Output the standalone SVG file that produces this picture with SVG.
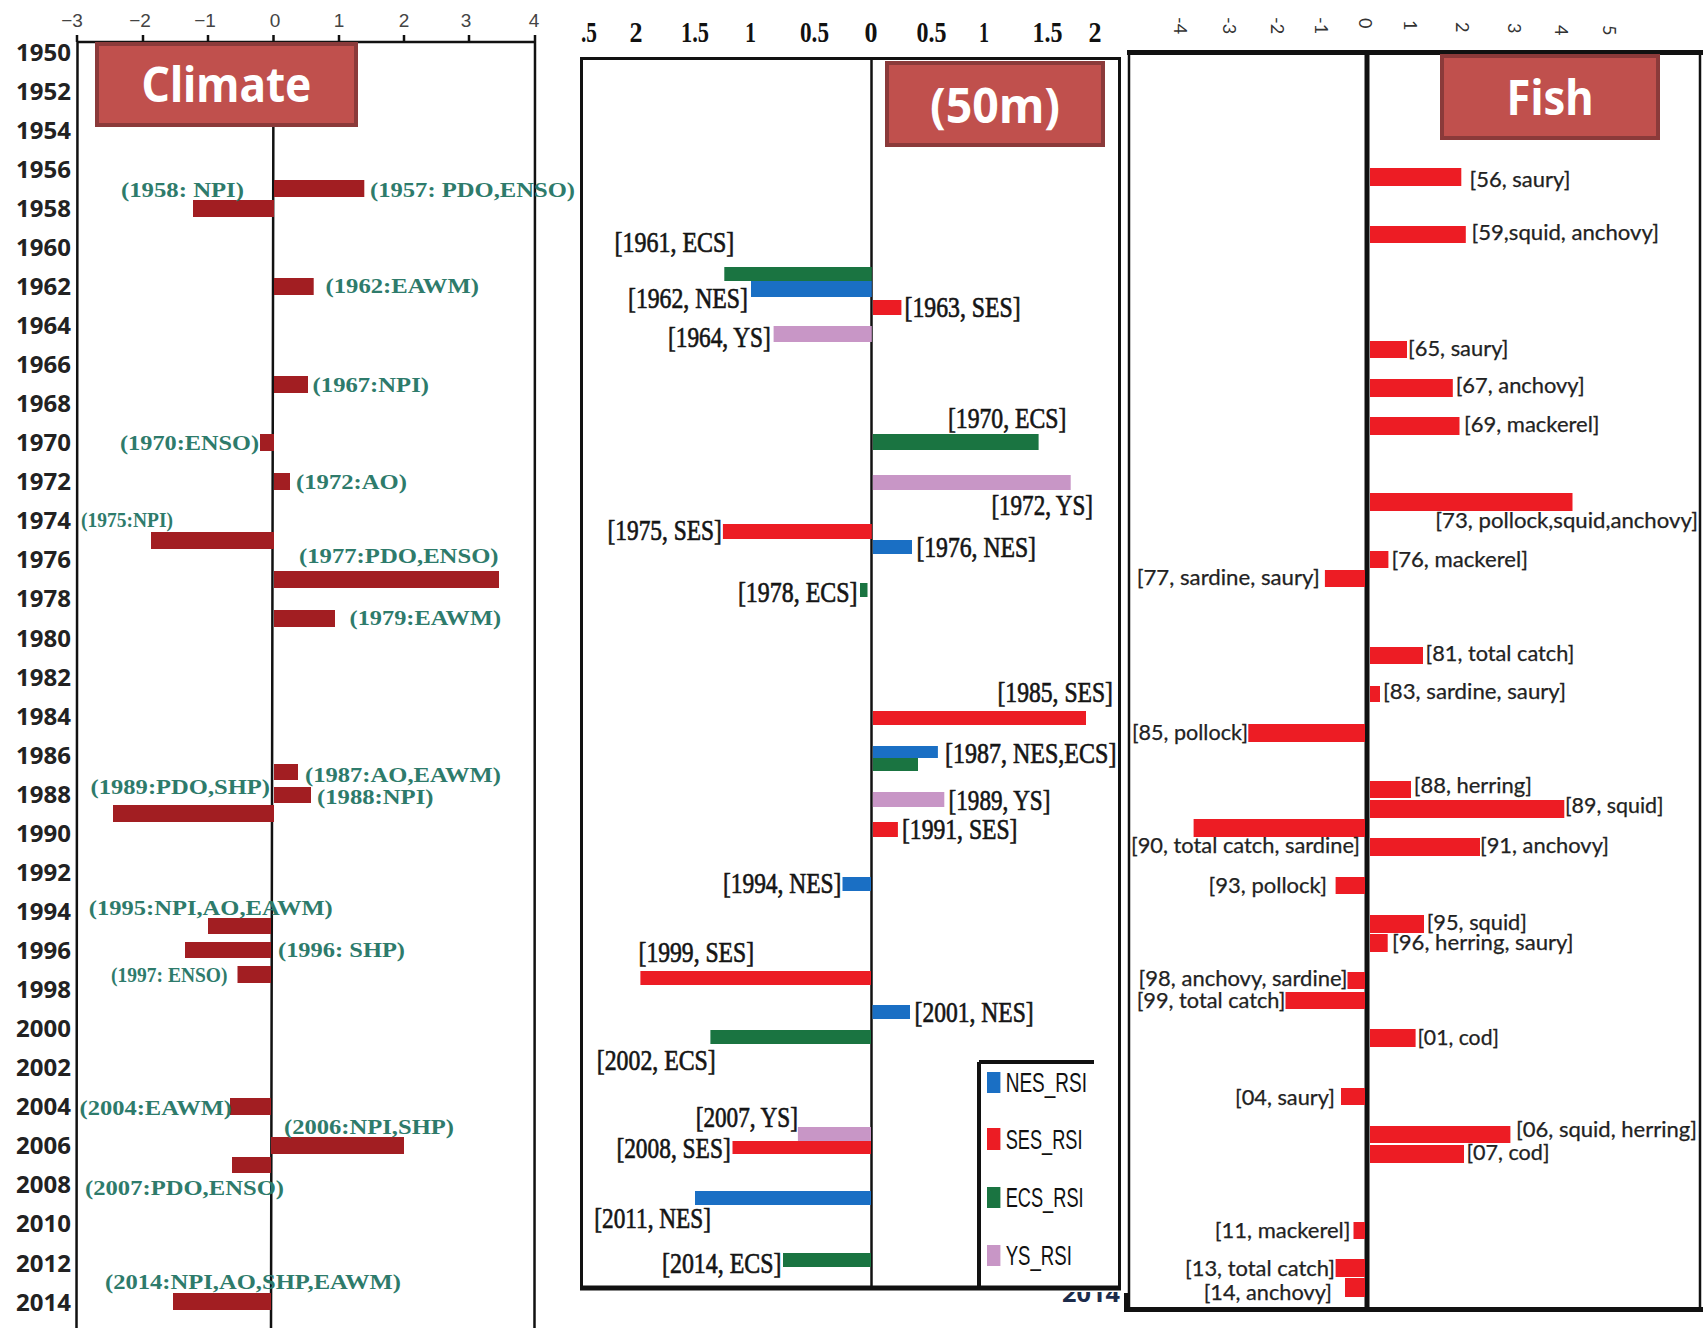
<svg xmlns="http://www.w3.org/2000/svg" width="1703" height="1328" viewBox="0 0 1703 1328">
<style>
.yr{font-family:"Noto Sans","Liberation Sans",sans-serif;font-weight:bold;font-size:24px;fill:#222;text-anchor:end}
.tk{font-family:"Liberation Sans",sans-serif;font-size:19px;fill:#444;text-anchor:middle}
.cl{font-family:"Liberation Serif",serif;font-weight:bold;font-size:22px;fill:#2E7B6B}
.cb{fill:#A21E22}
.ttl{fill:#C0504D;stroke:#8B3A3A;stroke-width:4}
.ttt{font-family:"Noto Sans","Liberation Sans",sans-serif;font-weight:bold;font-size:48px;fill:#fff;text-anchor:middle}
.ax{stroke:#111;stroke-width:2.5;fill:none}
.mt{font-family:"Liberation Serif",serif;font-weight:bold;font-size:30px;fill:#111}
.ml{font-family:"Liberation Serif",serif;font-size:30px;fill:#151515;stroke:#151515;stroke-width:0.7}
.ecs{fill:#1A7441}.nes{fill:#1A6FC4}.ses{fill:#EC1C24}.ys{fill:#C896C6}
.lg{font-family:"Liberation Sans",sans-serif;font-size:27px;fill:#111}
.ft{font-family:Lato,"Liberation Sans",sans-serif;font-size:18px;fill:#333;dominant-baseline:central}
.fl{font-family:Lato,"Liberation Sans",sans-serif;font-size:21px;fill:#222;stroke:#222;stroke-width:0.25}
.fb{fill:#ED1C24}
</style>
<defs>
<clipPath id="cut2014"><rect x="1040" y="1292" width="90" height="36"/></clipPath>
</defs>
<rect width="1703" height="1328" fill="#fff"/>

<g id="climate-panel">
<g id="climate-axis">
<path class="ax" d="M77.5,42 L535,42 M77.5,42 L76.5,1328 M535,42 L534.5,1328 M273.5,42 L271,1328"/>
<path class="ax" stroke-width="2" d="M77,42V35 M143,42V35 M208,42V35 M273.5,42V35 M339,42V35 M404,42V35 M469,42V35 M535,42V35"/>
<text class="tk" x="72" y="27">−3</text>
<text class="tk" x="140" y="27">−2</text>
<text class="tk" x="205" y="27">−1</text>
<text class="tk" x="275" y="27">0</text>
<text class="tk" x="339" y="27">1</text>
<text class="tk" x="404" y="27">2</text>
<text class="tk" x="466" y="27">3</text>
<text class="tk" x="534" y="27">4</text>
</g>
<g id="climate-years">
<text class="yr" x="71" y="60.6">1950</text>
<text class="yr" x="71" y="99.7">1952</text>
<text class="yr" x="71" y="138.7">1954</text>
<text class="yr" x="71" y="177.8">1956</text>
<text class="yr" x="71" y="216.8">1958</text>
<text class="yr" x="71" y="255.9">1960</text>
<text class="yr" x="71" y="295">1962</text>
<text class="yr" x="71" y="334">1964</text>
<text class="yr" x="71" y="373.1">1966</text>
<text class="yr" x="71" y="412.1">1968</text>
<text class="yr" x="71" y="451.2">1970</text>
<text class="yr" x="71" y="490.3">1972</text>
<text class="yr" x="71" y="529.3">1974</text>
<text class="yr" x="71" y="568.4">1976</text>
<text class="yr" x="71" y="607.4">1978</text>
<text class="yr" x="71" y="646.5">1980</text>
<text class="yr" x="71" y="685.6">1982</text>
<text class="yr" x="71" y="724.6">1984</text>
<text class="yr" x="71" y="763.7">1986</text>
<text class="yr" x="71" y="802.7">1988</text>
<text class="yr" x="71" y="841.8">1990</text>
<text class="yr" x="71" y="880.9">1992</text>
<text class="yr" x="71" y="919.9">1994</text>
<text class="yr" x="71" y="959">1996</text>
<text class="yr" x="71" y="998">1998</text>
<text class="yr" x="71" y="1037.1">2000</text>
<text class="yr" x="71" y="1076.2">2002</text>
<text class="yr" x="71" y="1115.2">2004</text>
<text class="yr" x="71" y="1154.3">2006</text>
<text class="yr" x="71" y="1193.3">2008</text>
<text class="yr" x="71" y="1232.4">2010</text>
<text class="yr" x="71" y="1271.5">2012</text>
<text class="yr" x="71" y="1310.5">2014</text>
</g>
<g id="climate-title">
<rect class="ttl" x="97" y="44" width="259" height="81"/>
<text class="ttt" x="226.5" y="102" textLength="170" lengthAdjust="spacingAndGlyphs">Climate</text>
</g>
<g id="climate-bars">
<rect class="cb" x="274" y="180" width="90.3" height="17"/>
<rect class="cb" x="193" y="200" width="81" height="17"/>
<rect class="cb" x="274" y="278" width="39.7" height="17"/>
<rect class="cb" x="274" y="376" width="34" height="17"/>
<rect class="cb" x="260" y="434" width="14" height="17"/>
<rect class="cb" x="274" y="473" width="16" height="17"/>
<rect class="cb" x="151" y="532" width="123" height="17"/>
<rect class="cb" x="274" y="571" width="225" height="17"/>
<rect class="cb" x="274" y="610" width="61" height="17"/>
<rect class="cb" x="274" y="764" width="24" height="16"/>
<rect class="cb" x="274" y="787" width="37" height="16"/>
<rect class="cb" x="113" y="805" width="161" height="17"/>
<rect class="cb" x="208" y="918" width="63" height="16"/>
<rect class="cb" x="185" y="942" width="86" height="16"/>
<rect class="cb" x="237.5" y="966" width="33.5" height="17"/>
<rect class="cb" x="230" y="1098" width="41" height="17"/>
<rect class="cb" x="271" y="1137" width="133" height="17"/>
<rect class="cb" x="232" y="1157" width="39" height="16"/>
<rect class="cb" x="173" y="1293" width="98" height="17"/>
</g>
<g id="climate-labels">
<text class="cl" x="121" y="197" textLength="123" lengthAdjust="spacingAndGlyphs">(1958: NPI)</text>
<text class="cl" x="370" y="197" textLength="205" lengthAdjust="spacingAndGlyphs">(1957: PDO,ENSO)</text>
<text class="cl" x="325.5" y="293" textLength="153.5" lengthAdjust="spacingAndGlyphs">(1962:EAWM)</text>
<text class="cl" x="312.6" y="392" textLength="116.4" lengthAdjust="spacingAndGlyphs">(1967:NPI)</text>
<text class="cl" x="120" y="450" textLength="139" lengthAdjust="spacingAndGlyphs">(1970:ENSO)</text>
<text class="cl" x="296" y="489" textLength="111" lengthAdjust="spacingAndGlyphs">(1972:AO)</text>
<text class="cl" x="81" y="527" font-size="16" textLength="92" lengthAdjust="spacingAndGlyphs">(1975:NPI)</text>
<text class="cl" x="299" y="563" textLength="199.6" lengthAdjust="spacingAndGlyphs">(1977:PDO,ENSO)</text>
<text class="cl" x="349.6" y="625" textLength="151.4" lengthAdjust="spacingAndGlyphs">(1979:EAWM)</text>
<text class="cl" x="305" y="782" textLength="196" lengthAdjust="spacingAndGlyphs">(1987:AO,EAWM)</text>
<text class="cl" x="317" y="804" textLength="116.5" lengthAdjust="spacingAndGlyphs">(1988:NPI)</text>
<text class="cl" x="90.6" y="794" textLength="179.4" lengthAdjust="spacingAndGlyphs">(1989:PDO,SHP)</text>
<text class="cl" x="88.8" y="915" textLength="244" lengthAdjust="spacingAndGlyphs">(1995:NPI,AO,EAWM)</text>
<text class="cl" x="278" y="957" textLength="127" lengthAdjust="spacingAndGlyphs">(1996: SHP)</text>
<text class="cl" x="111" y="982" font-size="17" textLength="116.5" lengthAdjust="spacingAndGlyphs">(1997: ENSO)</text>
<text class="cl" x="79.5" y="1115" textLength="152.5" lengthAdjust="spacingAndGlyphs">(2004:EAWM)</text>
<text class="cl" x="284" y="1134" textLength="170" lengthAdjust="spacingAndGlyphs">(2006:NPI,SHP)</text>
<text class="cl" x="85" y="1195" textLength="199" lengthAdjust="spacingAndGlyphs">(2007:PDO,ENSO)</text>
<text class="cl" x="105" y="1289" textLength="296" lengthAdjust="spacingAndGlyphs">(2014:NPI,AO,SHP,EAWM)</text>
</g>
</g>

<g id="sea-panel">
<g id="sea-axis">
<text class="mt" x="581" y="42" textLength="16" lengthAdjust="spacingAndGlyphs">.5</text>
<text class="mt" x="629.5" y="42" textLength="13" lengthAdjust="spacingAndGlyphs">2</text>
<text class="mt" x="681" y="42" textLength="28" lengthAdjust="spacingAndGlyphs">1.5</text>
<text class="mt" x="745" y="42" textLength="11" lengthAdjust="spacingAndGlyphs">1</text>
<text class="mt" x="800" y="42" textLength="29" lengthAdjust="spacingAndGlyphs">0.5</text>
<text class="mt" x="864.5" y="42" textLength="13" lengthAdjust="spacingAndGlyphs">0</text>
<text class="mt" x="916.5" y="42" textLength="30" lengthAdjust="spacingAndGlyphs">0.5</text>
<text class="mt" x="979" y="42" textLength="10" lengthAdjust="spacingAndGlyphs">1</text>
<text class="mt" x="1032.5" y="42" textLength="30" lengthAdjust="spacingAndGlyphs">1.5</text>
<text class="mt" x="1088.5" y="42" textLength="13" lengthAdjust="spacingAndGlyphs">2</text>
<rect x="581.5" y="58.5" width="538" height="1229" fill="none" stroke="#111" stroke-width="3"/>
<path d="M580,1288 H1121" stroke="#111" stroke-width="5"/>
<path d="M871.5,58 V1288" stroke="#111" stroke-width="2.5"/>
</g>
<g id="sea-title">
<rect class="ttl" x="887" y="63" width="216" height="82"/>
<text class="ttt" x="995" y="123" textLength="130" lengthAdjust="spacingAndGlyphs">(50m)</text>
</g>
<g id="sea-bars">
<rect class="ecs" x="724.3" y="267" width="147.5" height="14"/>
<rect class="nes" x="751" y="281" width="120.8" height="16"/>
<rect class="ses" x="872.9" y="300" width="28.5" height="15"/>
<rect class="ys" x="773.6" y="326" width="98.2" height="16"/>
<rect class="ecs" x="872.9" y="434" width="165.7" height="16"/>
<rect class="ys" x="872.9" y="475" width="197.8" height="15"/>
<rect class="ses" x="722.9" y="524" width="148.9" height="15"/>
<rect class="nes" x="872.9" y="540" width="39.1" height="14"/>
<rect class="ecs" x="860" y="583" width="7.5" height="14"/>
<rect class="ses" x="872.9" y="711" width="213.1" height="14"/>
<rect class="ecs" x="872.9" y="757" width="45.1" height="14"/>
<rect class="nes" x="872.9" y="746" width="65" height="12"/>
<rect class="ys" x="872.9" y="792" width="71.4" height="15"/>
<rect class="ses" x="872.9" y="822" width="25" height="15"/>
<rect class="nes" x="842.5" y="877" width="28.5" height="14"/>
<rect class="ses" x="640.4" y="971" width="230.6" height="14"/>
<rect class="nes" x="872.5" y="1005" width="37.5" height="14"/>
<rect class="ecs" x="710.4" y="1030" width="160.6" height="14"/>
<rect class="ses" x="732.5" y="1141" width="138.5" height="13"/>
<rect class="ys" x="797.9" y="1127" width="73.1" height="14"/>
<rect class="nes" x="695" y="1191" width="176" height="14"/>
<rect class="ecs" x="783" y="1253" width="88" height="14"/>
</g>
<g id="sea-labels">
<text class="ml" x="614.6" y="252" textLength="119.7" lengthAdjust="spacingAndGlyphs">[1961, ECS]</text>
<text class="ml" x="628" y="308" textLength="119.9" lengthAdjust="spacingAndGlyphs">[1962, NES]</text>
<text class="ml" x="904.6" y="317" textLength="116.1" lengthAdjust="spacingAndGlyphs">[1963, SES]</text>
<text class="ml" x="668" y="347" textLength="102.7" lengthAdjust="spacingAndGlyphs">[1964, YS]</text>
<text class="ml" x="947.9" y="428" textLength="118.5" lengthAdjust="spacingAndGlyphs">[1970, ECS]</text>
<text class="ml" x="991.4" y="515" textLength="101.6" lengthAdjust="spacingAndGlyphs">[1972, YS]</text>
<text class="ml" x="607.5" y="540" textLength="114.3" lengthAdjust="spacingAndGlyphs">[1975, SES]</text>
<text class="ml" x="916.4" y="557" textLength="119.6" lengthAdjust="spacingAndGlyphs">[1976, NES]</text>
<text class="ml" x="737.9" y="602" textLength="119.6" lengthAdjust="spacingAndGlyphs">[1978, ECS]</text>
<text class="ml" x="997.5" y="702" textLength="115.5" lengthAdjust="spacingAndGlyphs">[1985, SES]</text>
<text class="ml" x="945" y="763" textLength="171.4" lengthAdjust="spacingAndGlyphs">[1987, NES,ECS]</text>
<text class="ml" x="948.6" y="810" textLength="101.8" lengthAdjust="spacingAndGlyphs">[1989, YS]</text>
<text class="ml" x="902" y="839" textLength="115.5" lengthAdjust="spacingAndGlyphs">[1991, SES]</text>
<text class="ml" x="722.9" y="893" textLength="118.5" lengthAdjust="spacingAndGlyphs">[1994, NES]</text>
<text class="ml" x="638.6" y="962" textLength="115.4" lengthAdjust="spacingAndGlyphs">[1999, SES]</text>
<text class="ml" x="914.6" y="1022" textLength="119" lengthAdjust="spacingAndGlyphs">[2001, NES]</text>
<text class="ml" x="596.8" y="1070" textLength="118.9" lengthAdjust="spacingAndGlyphs">[2002, ECS]</text>
<text class="ml" x="695.7" y="1127" textLength="102.2" lengthAdjust="spacingAndGlyphs">[2007, YS]</text>
<text class="ml" x="616.4" y="1158" textLength="114.3" lengthAdjust="spacingAndGlyphs">[2008, SES]</text>
<text class="ml" x="594.3" y="1228" textLength="116.7" lengthAdjust="spacingAndGlyphs">[2011, NES]</text>
<text class="ml" x="662" y="1273" textLength="119.4" lengthAdjust="spacingAndGlyphs">[2014, ECS]</text>
</g>
<g id="sea-legend">
<path d="M979,1062 H1094 M979,1062 V1290" stroke="#111" stroke-width="4" fill="none"/>
<rect class="nes" x="987" y="1072" width="13.4" height="21"/>
<rect class="ses" x="987" y="1128" width="13.4" height="22"/>
<rect class="ecs" x="987" y="1187" width="13.4" height="21"/>
<rect class="ys" x="987" y="1245" width="13.4" height="21"/>
<text class="lg" x="1005.7" y="1092" textLength="81.3" lengthAdjust="spacingAndGlyphs">NES_RSI</text>
<text class="lg" x="1005.7" y="1149" textLength="76.8" lengthAdjust="spacingAndGlyphs">SES_RSI</text>
<text class="lg" x="1005.7" y="1207" textLength="77.9" lengthAdjust="spacingAndGlyphs">ECS_RSI</text>
<text class="lg" x="1005.7" y="1265" textLength="66.1" lengthAdjust="spacingAndGlyphs">YS_RSI</text>
</g>
<text clip-path="url(#cut2014)" x="1062" y="1302" font-family="Noto Sans, Liberation Sans, sans-serif" font-weight="bold" font-size="24" fill="#1c2b4a" textLength="58" lengthAdjust="spacingAndGlyphs">2014</text>
</g>

<g id="fish-panel">
<g id="fish-axis">
<text class="ft" transform="translate(1181,17) rotate(90)">-4</text>
<text class="ft" transform="translate(1230,17) rotate(90)">-3</text>
<text class="ft" transform="translate(1278,17) rotate(90)">-2</text>
<text class="ft" transform="translate(1322,17) rotate(90)">-1</text>
<text class="ft" transform="translate(1366,18) rotate(90)">0</text>
<text class="ft" transform="translate(1411,20) rotate(90)">1</text>
<text class="ft" transform="translate(1463,22) rotate(90)">2</text>
<text class="ft" transform="translate(1515,23) rotate(90)">3</text>
<text class="ft" transform="translate(1562,25) rotate(90)">4</text>
<text class="ft" transform="translate(1610,25) rotate(90)">5</text>
<path d="M1124,1293 H1130 V1312 H1124 Z M1124,1307 H1703 V1312 H1124 Z" fill="#111"/>
<path d="M1129,52.5 V1309 M1700,52.5 V1309" stroke="#111" stroke-width="2.5" fill="none"/>
<path d="M1127,52.5 H1703" stroke="#111" stroke-width="5"/>
<path d="M1367,52 V1310" stroke="#111" stroke-width="5"/>
</g>
<g id="fish-title">
<rect class="ttl" x="1442" y="56" width="216" height="82"/>
<text class="ttt" x="1550" y="115" textLength="87" lengthAdjust="spacingAndGlyphs">Fish</text>
</g>
<g id="fish-bars">
<rect class="fb" x="1370" y="168" width="91.3" height="18"/>
<rect class="fb" x="1370" y="226" width="95.8" height="17"/>
<rect class="fb" x="1370" y="341" width="37" height="17"/>
<rect class="fb" x="1370" y="379" width="82.8" height="18"/>
<rect class="fb" x="1370" y="417" width="89.5" height="18"/>
<rect class="fb" x="1370" y="493" width="202.5" height="18"/>
<rect class="fb" x="1370" y="551" width="18.4" height="17"/>
<rect class="fb" x="1324.9" y="570" width="40.1" height="17"/>
<rect class="fb" x="1370" y="647" width="53" height="17"/>
<rect class="fb" x="1370" y="686" width="10" height="16"/>
<rect class="fb" x="1248.3" y="724" width="116.7" height="18"/>
<rect class="fb" x="1370" y="781" width="41" height="17"/>
<rect class="fb" x="1370" y="800" width="194.3" height="18"/>
<rect class="fb" x="1193.6" y="819" width="171.4" height="18"/>
<rect class="fb" x="1370" y="838" width="110" height="18"/>
<rect class="fb" x="1335.6" y="877" width="29.4" height="17"/>
<rect class="fb" x="1370" y="915" width="54" height="18"/>
<rect class="fb" x="1370" y="934" width="17.7" height="18"/>
<rect class="fb" x="1347.5" y="972" width="17.5" height="17"/>
<rect class="fb" x="1285.5" y="992" width="79.5" height="17"/>
<rect class="fb" x="1370" y="1029" width="45.6" height="18"/>
<rect class="fb" x="1341" y="1088" width="24" height="17"/>
<rect class="fb" x="1370" y="1126" width="140.4" height="17"/>
<rect class="fb" x="1370" y="1145" width="94" height="18"/>
<rect class="fb" x="1353.5" y="1222" width="11.5" height="17"/>
<rect class="fb" x="1335.6" y="1259" width="29.4" height="18"/>
<rect class="fb" x="1345" y="1278" width="20" height="19"/>
</g>
<g id="fish-labels">
<text class="fl" x="1469.5" y="187" textLength="101" lengthAdjust="spacingAndGlyphs">[56, saury]</text>
<text class="fl" x="1471.4" y="240" textLength="187.6" lengthAdjust="spacingAndGlyphs">[59,squid, anchovy]</text>
<text class="fl" x="1408" y="356" textLength="100.5" lengthAdjust="spacingAndGlyphs">[65, saury]</text>
<text class="fl" x="1455.7" y="393" textLength="129" lengthAdjust="spacingAndGlyphs">[67, anchovy]</text>
<text class="fl" x="1464" y="432" textLength="135.6" lengthAdjust="spacingAndGlyphs">[69, mackerel]</text>
<text class="fl" x="1435.3" y="528" textLength="262.7" lengthAdjust="spacingAndGlyphs">[73, pollock,squid,anchovy]</text>
<text class="fl" x="1391.4" y="567" textLength="136.6" lengthAdjust="spacingAndGlyphs">[76, mackerel]</text>
<text class="fl" x="1136.7" y="585" textLength="183" lengthAdjust="spacingAndGlyphs">[77, sardine, saury]</text>
<text class="fl" x="1425.6" y="661" textLength="148.7" lengthAdjust="spacingAndGlyphs">[81, total catch]</text>
<text class="fl" x="1383" y="699" textLength="183" lengthAdjust="spacingAndGlyphs">[83, sardine, saury]</text>
<text class="fl" x="1132" y="740" textLength="116" lengthAdjust="spacingAndGlyphs">[85, pollock]</text>
<text class="fl" x="1413.7" y="793" textLength="118.3" lengthAdjust="spacingAndGlyphs">[88, herring]</text>
<text class="fl" x="1565" y="813" textLength="98.6" lengthAdjust="spacingAndGlyphs">[89, squid]</text>
<text class="fl" x="1131" y="852.7" textLength="229" lengthAdjust="spacingAndGlyphs">[90, total catch, sardine]</text>
<text class="fl" x="1480" y="853" textLength="129" lengthAdjust="spacingAndGlyphs">[91, anchovy]</text>
<text class="fl" x="1208.5" y="892.7" textLength="118.5" lengthAdjust="spacingAndGlyphs">[93, pollock]</text>
<text class="fl" x="1426.7" y="929.5" textLength="100.3" lengthAdjust="spacingAndGlyphs">[95, squid]</text>
<text class="fl" x="1392" y="950" textLength="181.6" lengthAdjust="spacingAndGlyphs">[96, herring, saury]</text>
<text class="fl" x="1138.6" y="986" textLength="209" lengthAdjust="spacingAndGlyphs">[98, anchovy, sardine]</text>
<text class="fl" x="1136.7" y="1008" textLength="148.8" lengthAdjust="spacingAndGlyphs">[99, total catch]</text>
<text class="fl" x="1417.4" y="1045" textLength="81.6" lengthAdjust="spacingAndGlyphs">[01, cod]</text>
<text class="fl" x="1235" y="1105" textLength="100" lengthAdjust="spacingAndGlyphs">[04, saury]</text>
<text class="fl" x="1516" y="1136.7" textLength="181" lengthAdjust="spacingAndGlyphs">[06, squid, herring]</text>
<text class="fl" x="1466.5" y="1160" textLength="83" lengthAdjust="spacingAndGlyphs">[07, cod]</text>
<text class="fl" x="1214.8" y="1238" textLength="135.7" lengthAdjust="spacingAndGlyphs">[11, mackerel]</text>
<text class="fl" x="1185" y="1276" textLength="150" lengthAdjust="spacingAndGlyphs">[13, total catch]</text>
<text class="fl" x="1203.7" y="1300" textLength="128.3" lengthAdjust="spacingAndGlyphs">[14, anchovy]</text>
</g>
</g>
</svg>
